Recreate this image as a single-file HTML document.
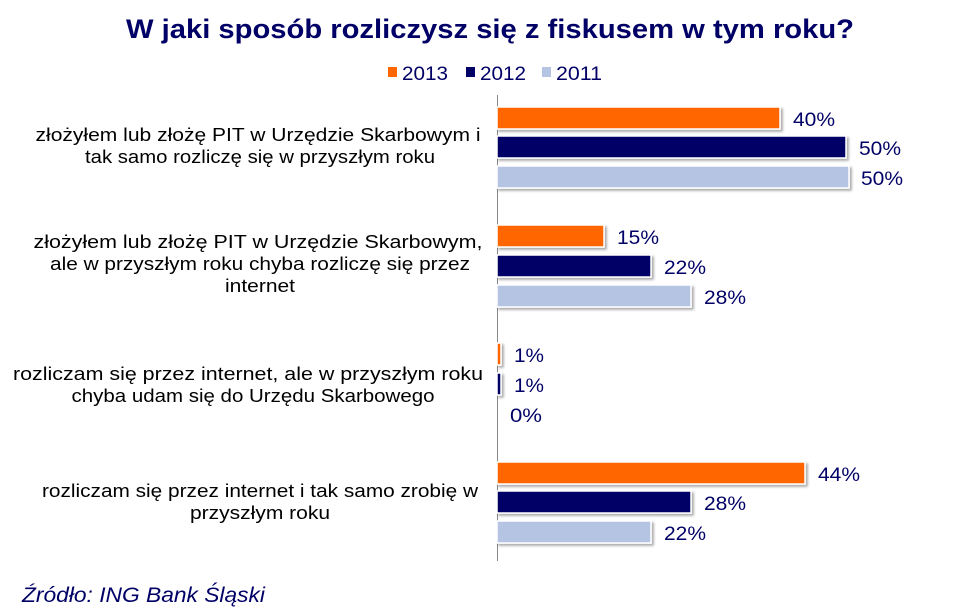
<!DOCTYPE html>
<html><head><meta charset="utf-8"><style>
body{margin:0;background:#fff}
svg{display:block;font-family:"Liberation Sans",Arial,sans-serif}
</style></head><body>
<svg width="980" height="613" viewBox="0 0 980 613" xmlns="http://www.w3.org/2000/svg">
<defs><filter id="sh" x="-5%" y="-20%" width="110%" height="160%"><feDropShadow dx="2" dy="2" stdDeviation="1.2" flood-color="#000" flood-opacity="0.35"/></filter></defs>
<text x="490" y="38" text-anchor="middle" font-size="27" font-weight="bold" fill="#000066" textLength="728" lengthAdjust="spacingAndGlyphs">W jaki sposób rozliczysz się z fiskusem w tym roku?</text>
<g font-size="19" fill="#000066">
<rect x="388" y="67" width="9" height="10" fill="#ff6600"/><text x="402" y="80" textLength="46" lengthAdjust="spacingAndGlyphs">2013</text>
<rect x="466" y="67" width="9" height="10" fill="#000066"/><text x="480" y="80" textLength="46" lengthAdjust="spacingAndGlyphs">2012</text>
<rect x="542" y="67" width="9" height="10" fill="#b4c4e2"/><text x="556" y="80" textLength="46" lengthAdjust="spacingAndGlyphs">2011</text>
</g>
<line x1="497.5" y1="95" x2="497.5" y2="561" stroke="#888" stroke-width="1"/>
<g filter="url(#sh)" stroke="#fff" stroke-width="1.5">
<rect x="497" y="107" width="283" height="22" fill="#ff6600"/>
<rect x="497" y="136" width="349" height="22" fill="#000066"/>
<rect x="497" y="166" width="352" height="22" fill="#b4c4e2"/>
<rect x="497" y="225" width="107" height="22" fill="#ff6600"/>
<rect x="497" y="255" width="154" height="22" fill="#000066"/>
<rect x="497" y="285" width="194" height="22" fill="#b4c4e2"/>
<rect x="497" y="343" width="4" height="22" fill="#ff6600"/>
<rect x="497" y="373" width="4" height="22" fill="#000066"/>
<rect x="497" y="462" width="308" height="22" fill="#ff6600"/>
<rect x="497" y="491" width="194" height="22" fill="#000066"/>
<rect x="497" y="521" width="154" height="22" fill="#b4c4e2"/>
</g>
<g font-size="19" fill="#000066">
<text x="793" y="126" textLength="42" lengthAdjust="spacingAndGlyphs">40%</text>
<text x="859" y="155" textLength="42" lengthAdjust="spacingAndGlyphs">50%</text>
<text x="861" y="185" textLength="42" lengthAdjust="spacingAndGlyphs">50%</text>
<text x="617" y="244" textLength="42" lengthAdjust="spacingAndGlyphs">15%</text>
<text x="664" y="274" textLength="42" lengthAdjust="spacingAndGlyphs">22%</text>
<text x="704" y="304" textLength="42" lengthAdjust="spacingAndGlyphs">28%</text>
<text x="514" y="362" textLength="30" lengthAdjust="spacingAndGlyphs">1%</text>
<text x="514" y="392" textLength="30" lengthAdjust="spacingAndGlyphs">1%</text>
<text x="510" y="422" textLength="32" lengthAdjust="spacingAndGlyphs">0%</text>
<text x="818" y="481" textLength="42" lengthAdjust="spacingAndGlyphs">44%</text>
<text x="704" y="510" textLength="42" lengthAdjust="spacingAndGlyphs">28%</text>
<text x="664" y="540" textLength="42" lengthAdjust="spacingAndGlyphs">22%</text>
</g>
<g font-size="18" fill="#000" text-anchor="middle">
<text x="258" y="141" textLength="445" lengthAdjust="spacingAndGlyphs">złożyłem lub złożę PIT w Urzędzie Skarbowym i</text>
<text x="260" y="163" textLength="350" lengthAdjust="spacingAndGlyphs">tak samo rozliczę się w przyszłym roku</text>
<text x="258" y="248" textLength="449" lengthAdjust="spacingAndGlyphs">złożyłem lub złożę PIT w Urzędzie Skarbowym,</text>
<text x="260" y="270" textLength="420" lengthAdjust="spacingAndGlyphs">ale w przyszłym roku chyba rozliczę się przez</text>
<text x="260" y="292" textLength="70" lengthAdjust="spacingAndGlyphs">internet</text>
<text x="248" y="380" textLength="470" lengthAdjust="spacingAndGlyphs">rozliczam się przez internet, ale w przyszłym roku</text>
<text x="253" y="402" textLength="363" lengthAdjust="spacingAndGlyphs">chyba udam się do Urzędu Skarbowego</text>
<text x="260" y="497" textLength="436" lengthAdjust="spacingAndGlyphs">rozliczam się przez internet i tak samo zrobię w</text>
<text x="260" y="519" textLength="140" lengthAdjust="spacingAndGlyphs">przyszłym roku</text>
</g>
<text x="22" y="602" font-size="21" font-style="italic" fill="#000066" textLength="243" lengthAdjust="spacingAndGlyphs">Źródło: ING Bank Śląski</text>
</svg>
</body></html>
